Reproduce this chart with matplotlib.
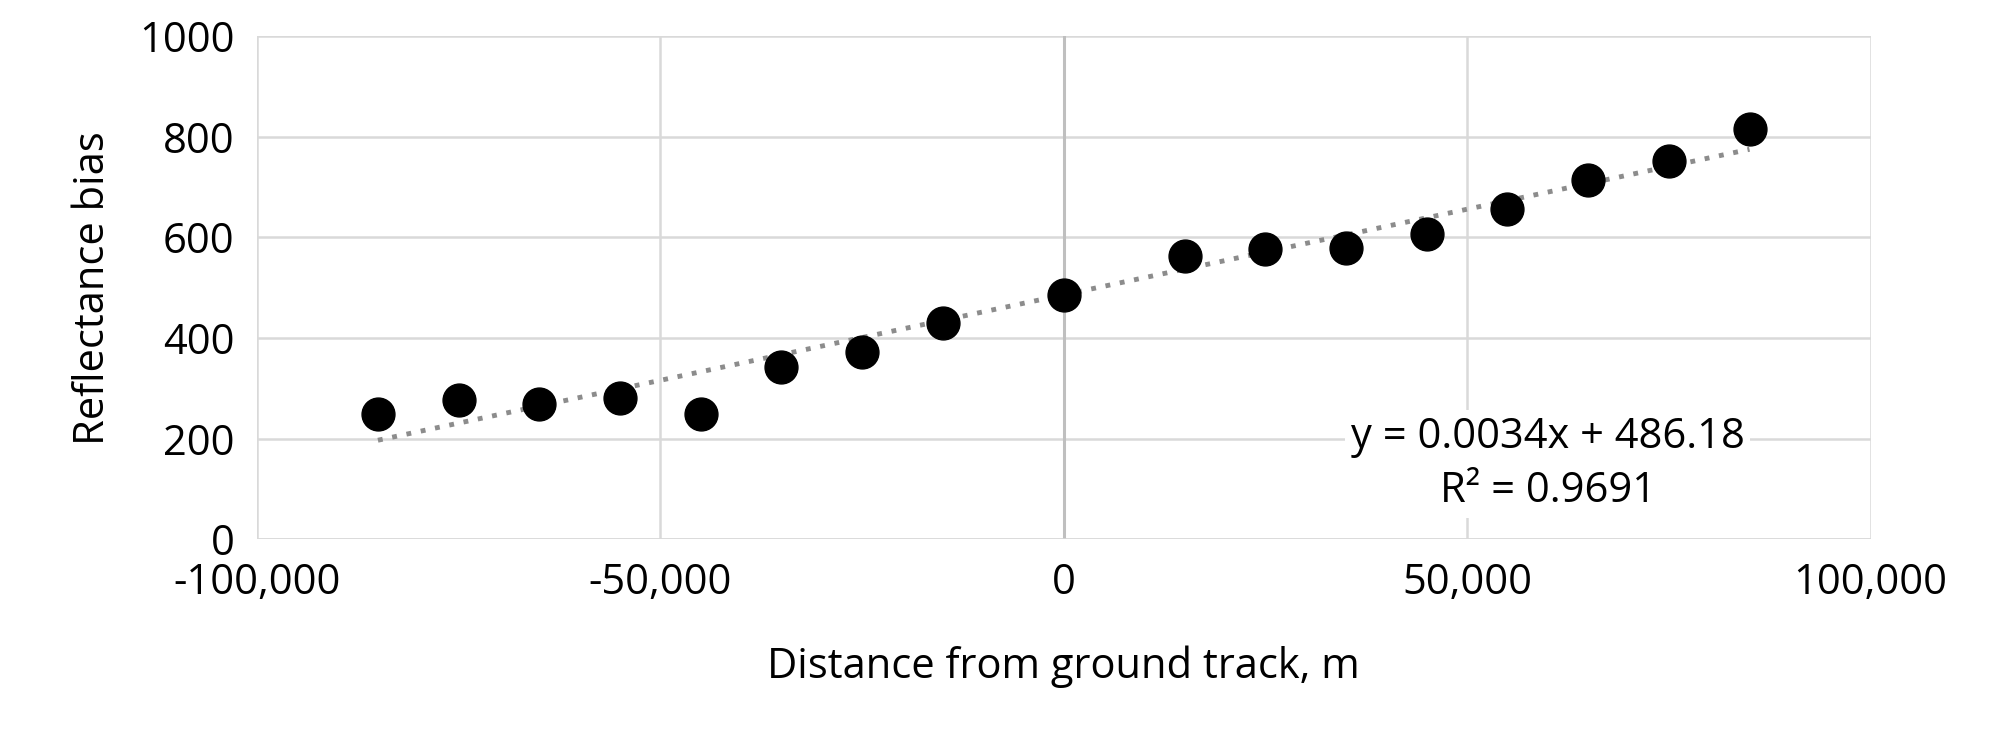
import matplotlib
matplotlib.use("Agg")
import matplotlib.pyplot as plt
import numpy as np

x = [-85000, -75000, -65000, -55000, -45000, -35000, -25000, -15000, 0,
     15000, 25000, 35000, 45000, 55000, 65000, 75000, 85000]
y = [250, 277, 270, 282, 250, 342, 372, 430, 485,
     563, 578, 580, 607, 657, 714, 752, 815]
slope, intercept = 0.0034, 486.18
eq_text = "y = 0.0034x + 486.18\nR² = 0.9691"

plt.rcParams['font.family'] = ['Open Sans', 'DejaVu Sans']
fig = plt.figure(figsize=(20.07, 7.38), dpi=100)
ax = fig.add_axes([0.128, 0.269, 0.804, 0.682])
ax.set_xlim(-100000, 100000)
ax.set_ylim(0, 1000)
ax.set_xticks(np.arange(-100000, 100001, 50000))
ax.set_yticks(np.arange(0, 1001, 200))
ax.xaxis.set_major_formatter(matplotlib.ticker.FuncFormatter(lambda v, p: f"{int(v):,}"))
ax.grid(True, color='#d9d9d9', linewidth=1.8)
ax.set_axisbelow(True)
for s in ax.spines.values():
    s.set_visible(False)
ax.axvline(0, color='#bfbfbf', linewidth=2.2, zorder=1)
ax.axhline(0, color='#d9d9d9', linewidth=1.8, zorder=1)
ax.tick_params(length=0, labelsize=30, pad=16)
xf = np.array([min(x), max(x)])
ax.plot(xf, slope * xf + intercept, linestyle=(0, (1, 2)), color='#8c8c8c', linewidth=3.5, zorder=2)
ax.scatter(x, y, s=560, color='black', zorder=3)
ax.text(60000, 150, eq_text, fontsize=30, ha='center', va='center', linespacing=1.4,
        bbox=dict(facecolor='white', edgecolor='none', pad=4), zorder=4)
ax.set_xlabel("Distance from ground track, m", fontsize=30, labelpad=30)
ax.set_ylabel("Reflectance bias", fontsize=30, labelpad=18)
fig.savefig("out.png")
